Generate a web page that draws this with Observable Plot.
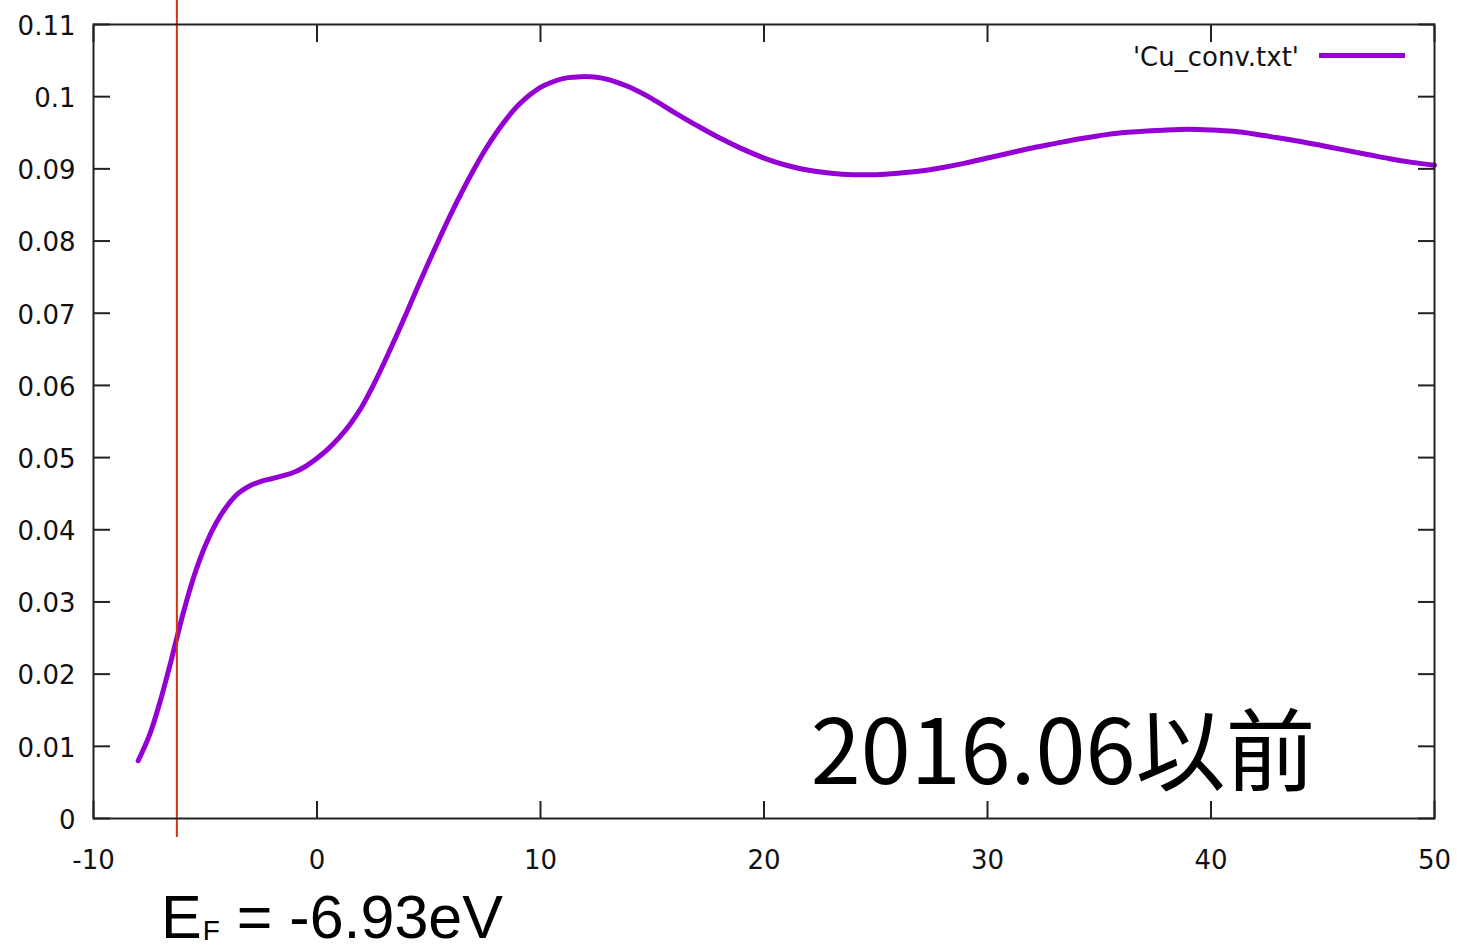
<!DOCTYPE html>
<html>
<head>
<meta charset="utf-8">
<script src="https://cdn.jsdelivr.net/npm/d3@7"></script>
<script src="https://cdn.jsdelivr.net/npm/@observablehq/plot@0.6"></script>
<style>
  html, body { margin: 0; padding: 0; background: #fff; }
  #wrap { position: relative; width: 1457px; height: 952px; overflow: hidden; }
  #legend { position: absolute; left: 1100px; top: 39px; width: 305px; height: 36px; display: flex; align-items: center; justify-content: flex-end; font-family: "DejaVu Sans", sans-serif; font-size: 26px; color: #111; }
  #legend .swatch { display: inline-block; width: 86px; height: 5px; background: #9400D3; margin-left: 20px; position: relative; top: -2px; }
  #ef { position: absolute; left: 161px; bottom: 1px; font-family: "Liberation Sans", sans-serif; font-size: 61px; color: #000; line-height: 68px; white-space: nowrap; }
  #ef sub { font-size: 28px; line-height: 0; vertical-align: -2px; margin-left: 1px; }
</style>
</head>
<body>
<div id="wrap">
  <div id="chart"></div>
  <div id="legend"><span>'Cu_conv.txt'</span><span class="swatch"></span></div>
  <div id="ef">E<sub>F</sub> = -6.93eV</div>
</div>
<script>
// ---- data ----
const energy = [-8, -7.5, -7, -6.5, -6, -5.5, -5, -4.5, -4, -3.5, -3, -2.5, -2, -1.5, -1, -0.5,
  0, 0.5, 1, 1.5, 2, 2.5, 3, 3.5, 4, 4.5, 5, 5.5, 6, 6.5, 7, 7.5, 8, 8.5, 9, 9.5,
  10, 10.5, 11, 11.5, 12, 12.5, 13, 13.5, 14, 15, 16, 17, 18, 19, 20, 21, 22, 23, 24,
  25, 26, 27, 28, 29, 30, 31, 32, 33, 34, 35, 36, 37, 38, 39, 40, 41, 42, 43, 44, 45,
  46, 47, 48, 49, 50];
const dos = [0.0080, 0.0115, 0.0164, 0.0222, 0.0283, 0.0336, 0.0378, 0.0410, 0.0434, 0.0451,
  0.0461, 0.0467, 0.0471, 0.0475, 0.0480, 0.0488,
  0.0499, 0.0512, 0.0528, 0.0547, 0.0570, 0.0599, 0.0631, 0.0665, 0.0700, 0.0736, 0.0771,
  0.0805, 0.0838, 0.0869, 0.0898, 0.0925, 0.0949, 0.0970, 0.0988, 0.1002,
  0.1013, 0.1020, 0.1025, 0.1027, 0.1028, 0.1027, 0.1024, 0.1019, 0.1013, 0.0997, 0.0978,
  0.0960, 0.0943, 0.0928, 0.0915, 0.0905, 0.0898, 0.0894, 0.0892,
  0.0892, 0.0894, 0.0897, 0.0902, 0.0908, 0.0915, 0.0922, 0.0929, 0.0935, 0.0941, 0.0946,
  0.0950, 0.0952, 0.0954, 0.0955, 0.0954, 0.0952, 0.0948, 0.0943, 0.0938, 0.0932,
  0.0926, 0.0920, 0.0914, 0.0909, 0.0905];
const xTicks = [-10, 0, 10, 20, 30, 40, 50];
const yTicks = [0, 0.01, 0.02, 0.03, 0.04, 0.05, 0.06, 0.07, 0.08, 0.09, 0.1, 0.11];
const fermiLine = [-6.27];          // position of the red marker as drawn
const periodLabel = ["2016.06以前"];

const table = energy.map((e, i) => ({e, v: dos[i]}));

const tickFont = {fontFamily: "DejaVu Sans", fill: "#111"};

const chart = Plot.plot({
  width: 1457,
  height: 890,
  marginLeft: 93,
  marginRight: 23,
  marginTop: 24,
  marginBottom: 72,
  style: {fontFamily: "DejaVu Sans, sans-serif", fontSize: "26px", background: "#fff", color: "#111"},
  x: {domain: [-10, 50]},
  y: {domain: [0, 0.11]},
  marks: [
    Plot.line(table, {x: "e", y: "v", stroke: "#9400D3", strokeWidth: 5, curve: "catmull-rom"}),
    Plot.ruleX(fermiLine, {x: d => d, stroke: "#d4330f", strokeWidth: 2, insetTop: -24, insetBottom: -19}),
    Plot.axisY(yTicks, {anchor: "left", tickSize: 0, tickPadding: 18, dy: 2, tickFormat: d => String(d), label: null, ...tickFont}),
    Plot.axisY(yTicks, {anchor: "left", tickSize: -17, tickFormat: () => "", label: null, stroke: "#222", strokeWidth: 2}),
    Plot.axisY(yTicks, {anchor: "right", tickSize: -17, tickFormat: () => "", label: null, stroke: "#222", strokeWidth: 2}),
    Plot.axisX(xTicks, {anchor: "bottom", tickSize: 0, tickPadding: 32, tickFormat: d => String(d), label: null, ...tickFont}),
    Plot.axisX(xTicks, {anchor: "bottom", tickSize: -17, tickFormat: () => "", label: null, stroke: "#222", strokeWidth: 2}),
    Plot.axisX(xTicks, {anchor: "top", tickSize: -17, tickFormat: () => "", label: null, stroke: "#222", strokeWidth: 2}),
    Plot.text(periodLabel, {text: d => d, frameAnchor: "bottom-right", dx: -119, dy: -35, lineAnchor: "bottom",
      fontFamily: "Noto Sans CJK JP", fontSize: 90, fill: "#000"}),
    Plot.frame({stroke: "#222", strokeWidth: 2})
  ]
});
document.getElementById("chart").appendChild(chart);
</script>
</body>
</html>
